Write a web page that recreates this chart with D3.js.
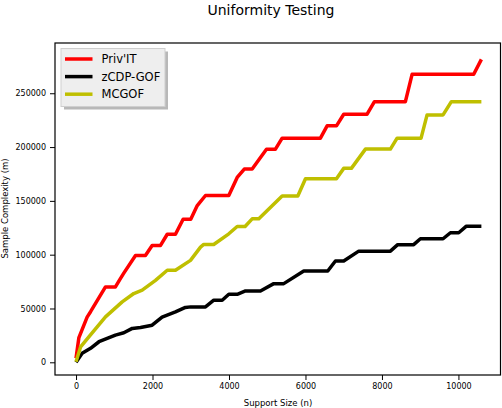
<!DOCTYPE html>
<html>
<head>
<meta charset="utf-8">
<script src="https://cdn.jsdelivr.net/npm/d3@7"></script>
<style>
  body { margin: 0; background: #fff; }
  text { font-family: "DejaVu Sans", sans-serif; }
</style>
</head>
<body>
<div id="Chart"></div>
<script>
// data
var seriesNames = ["Priv'IT", "zCDP-GOF", "MCGOF"];
var seriesColors = ["#ff0000", "#000000", "#bfbf00"];

var privitN = [0, 75, 290, 380, 770, 1030, 1160, 1245, 1555, 1815, 1990, 2210, 2385, 2600, 2800, 3000, 3170, 3385, 3995, 4214, 4400, 4606, 4980, 5215, 5390, 6391, 6566, 6810, 7000, 7612, 7803, 8613, 8788, 10400, 10600];
var privitM = [3700, 23000, 42000, 47000, 70000, 70000, 77800, 82600, 99300, 99300, 108600, 108600, 119000, 119000, 133000, 133000, 145600, 155000, 155000, 171800, 179600, 179600, 198000, 198000, 208300, 208300, 219700, 219700, 230500, 230500, 242200, 242200, 267600, 267600, 281500];

var zcdpN = [0, 160, 380, 600, 1030, 1250, 1470, 1686, 1990, 2250, 2600, 2860, 3000, 3385, 3602, 3822, 3995, 4214, 4431, 4823, 5171, 5432, 5955, 6583, 6783, 7000, 7393, 8221, 8412, 8830, 9005, 9598, 9790, 10007, 10208, 10600];
var zcdpM = [0, 8300, 13000, 19100, 25300, 27400, 31500, 32400, 34500, 42000, 46800, 51000, 51500, 51500, 57700, 57700, 63200, 63200, 66300, 66300, 73100, 73100, 84800, 84800, 94100, 94100, 103300, 103300, 109300, 109300, 114800, 114800, 120400, 120400, 126500, 126500];

var mcgofN = [0, 120, 335, 770, 1207, 1510, 1730, 2078, 2385, 2600, 2993, 3255, 3340, 3600, 3995, 4214, 4420, 4606, 4780, 5390, 5800, 6000, 6810, 7000, 7200, 7568, 8221, 8396, 9023, 9180, 9598, 9815, 10600];
var mcgofM = [500, 14400, 23700, 42200, 56100, 63900, 67000, 76200, 85500, 85500, 94700, 107000, 109500, 109500, 119400, 126200, 126200, 133300, 133300, 154600, 154600, 170600, 170600, 180200, 180200, 198100, 198100, 208300, 208300, 229900, 229900, 242200, 242200];

var xTicks = [0, 2000, 4000, 6000, 8000, 10000];
var yTicks = [0, 50000, 100000, 150000, 200000, 250000];

var series = [
    {name: seriesNames[0], color: seriesColors[0], n: privitN, m: privitM},
    {name: seriesNames[1], color: seriesColors[1], n: zcdpN, m: zcdpM},
    {name: seriesNames[2], color: seriesColors[2], n: mcgofN, m: mcgofM}
];

// set the dimensions and margins of the graph
var W = 502, H = 408;
var margin = {top: 43, right: 1.5, bottom: 33, left: 55},
    width = W - margin.left - margin.right,
    height = H - margin.top - margin.bottom;

var svg = d3.select("#Chart")
    .append("svg")
    .attr("width", W)
    .attr("height", H)
    .attr('class', 'chart');

var plot = svg.append("g")
    .attr("transform", "translate(" + margin.left + "," + margin.top + ")");

var x = d3.scaleLinear().domain([-550, 11100]).range([0, width]);
var y = d3.scaleLinear().domain([-11800, 296700]).range([height, 0]);

// axes with outward ticks
var xAxis = d3.axisBottom(x).tickValues(xTicks).tickSize(5).tickPadding(3).tickFormat(d3.format("d"));
var yAxis = d3.axisLeft(y).tickValues(yTicks).tickSize(5).tickPadding(4).tickFormat(d3.format("d"));

var gx = plot.append("g")
    .attr("class", "x axis")
    .attr("transform", "translate(0," + height + ")")
    .call(xAxis);
var gy = plot.append("g")
    .attr("class", "y axis")
    .call(yAxis);

[gx, gy].forEach(function(g) {
    g.select(".domain").remove();
    g.selectAll("line").attr("stroke", "#000").attr("stroke-width", 1);
    g.selectAll("text").style("font-size", "8px").attr("fill", "#000");
});

// the lines
var line = d3.line()
    .x(function(d) { return x(d[0]); })
    .y(function(d) { return y(d[1]); });

series.forEach(function(s) {
    var pts = s.n.map(function(v, i) { return [v, s.m[i]]; });
    plot.append("path")
        .datum(pts)
        .attr("fill", "none")
        .attr("stroke", s.color)
        .attr("stroke-width", 3.5)
        .attr("stroke-linejoin", "round")
        .attr("d", line);
});

// frame
plot.append("rect")
    .attr("x", 0).attr("y", 0)
    .attr("width", width).attr("height", height)
    .attr("fill", "none")
    .attr("stroke", "#000")
    .attr("stroke-width", 1.2);

// title and axis labels
svg.append("text")
    .attr("x", 271).attr("y", 15)
    .style("text-anchor", "middle")
    .style("font-size", "14px")
    .text("Uniformity Testing");

svg.append("text")
    .attr("x", 278).attr("y", 405.5)
    .style("text-anchor", "middle")
    .style("font-size", "8.5px")
    .text("Support Size (n)");

svg.append("text")
    .attr("transform", "translate(8,208.5) rotate(-90)")
    .style("text-anchor", "middle")
    .style("font-size", "8.5px")
    .text("Sample Complexity (m)");

// legend with shadow
var lg = svg.append("g").attr("transform", "translate(61,48.5)");
lg.append("rect")
    .attr("x", 3).attr("y", 3)
    .attr("width", 104).attr("height", 58)
    .attr("fill", "#b8b8b8");
lg.append("rect")
    .attr("x", 0).attr("y", 0)
    .attr("width", 104).attr("height", 58)
    .attr("fill", "#eeeeee")
    .attr("stroke", "#cfcfcf")
    .attr("stroke-width", 1);

var rowH = 17.6;
lg.selectAll("legend_line")
    .data(series)
    .enter()
    .append("line")
    .attr("x1", 4).attr("x2", 31.5)
    .attr("y1", function(d, i) { return 10.5 + i * rowH; })
    .attr("y2", function(d, i) { return 10.5 + i * rowH; })
    .attr("stroke", function(d) { return d.color; })
    .attr("stroke-width", 3.5);
lg.selectAll("legend_label")
    .data(series)
    .enter()
    .append("text")
    .attr("x", 40.5)
    .attr("y", function(d, i) { return 14.6 + i * rowH; })
    .style("font-size", "11.5px")
    .text(function(d) { return d.name; });
</script>
</body>
</html>
